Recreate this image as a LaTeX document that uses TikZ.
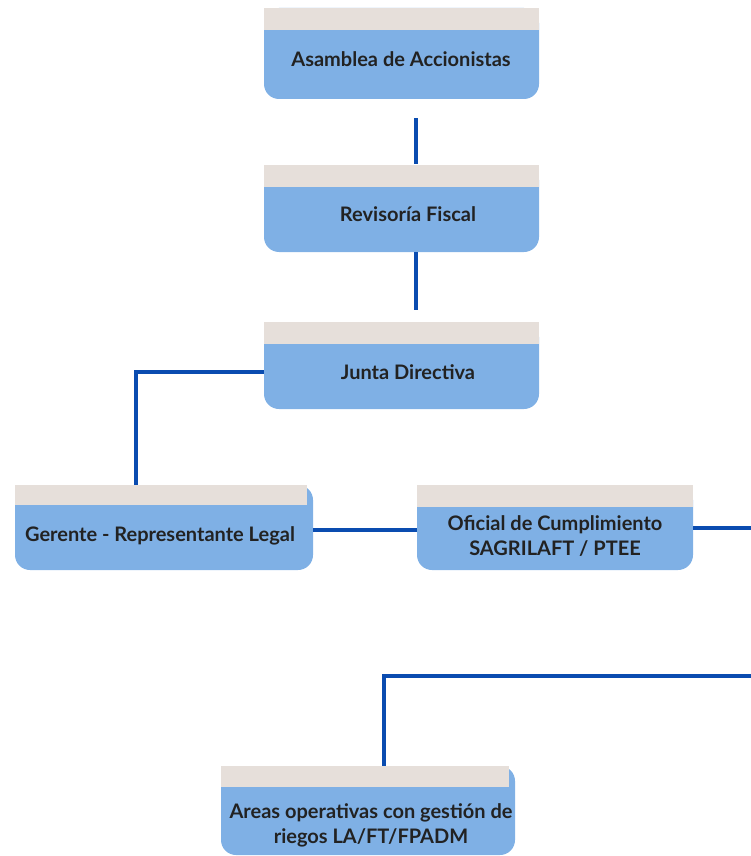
\documentclass[tikz,border=0pt]{standalone}
\usepackage{fontspec}
\setmainfont{Lato}
\definecolor{boxblue}{HTML}{7FB0E5}
\definecolor{boxtan}{HTML}{E6DFDA}
\definecolor{linkblue}{HTML}{0A4CB0}
\definecolor{txt}{HTML}{222222}
\begin{document}
\begin{tikzpicture}[x=1pt,y=-1pt,
  orgbox/.style={fill=boxblue, rounded corners=15pt, inner sep=0pt},
  tanstrip/.style={fill=boxtan},
  lbl/.style={text=txt, font=\fontsize{20}{25}\selectfont\bfseries, align=center, inner sep=0pt},
  link/.style={draw=linkblue, line width=4pt}]
\useasboundingbox (0,0) rectangle (751,856);
% boxes
\node[orgbox, minimum width=275pt, minimum height=91pt] (asam) at (401.5,53.5) {};
\fill[tanstrip] (264,8) rectangle (539,30);
\node[orgbox, minimum width=275pt, minimum height=87pt] (rev) at (401.5,208.5) {};
\fill[tanstrip] (264,165) rectangle (539,187);
\node[orgbox, minimum width=275pt, minimum height=87pt] (junta) at (401.5,365.5) {};
\fill[tanstrip] (264,322) rectangle (539,344);
\node[orgbox, minimum width=298pt, minimum height=85pt] (ger) at (164,527.5) {};
\fill[tanstrip] (15,485) rectangle (307,505);
\node[orgbox, minimum width=276pt, minimum height=85pt] (ofi) at (555,527.5) {};
\fill[tanstrip] (417,485) rectangle (693,507);
\node[orgbox, minimum width=294pt, minimum height=89pt] (areas) at (368,810.5) {};
\fill[tanstrip] (221,766) rectangle (509,787);
% labels
\node[lbl] (asamt) at (401,59) {Asamblea de Accionistas};
\node[lbl] (revt) at (408,214) {Revisoría Fiscal};
\node[lbl] (juntat) at (408,372) {Junta Directiva};
\node[lbl] (gert) at (160,536) {Gerente - Representante Legal};
\node[lbl] (ofit) at (555,536) {Oficial de Cumplimiento\\SAGRILAFT / PTEE};
\node[lbl] (areast) at (371,825) {Areas operativas con gestión de\\riegos LA/FT/FPADM};
% connectors
\coordinate (jl) at (264,372);
\coordinate (oe) at (751,528);
\coordinate (le) at (751,676);
\draw[link] ([yshift=-19pt]asam.south -| 416,0) -- (416,164);
\draw[link] (416,252) -- ([yshift=12pt]junta.north -| 416,0);
\draw[link] (jl) -| (ger.north -| 136,0);
\draw[link] (313,530) -- (417,530);
\draw[link] (693,528) -- (oe);
\draw[link] (le) -| (areas.north -| 384,0);
\end{tikzpicture}
\end{document}
